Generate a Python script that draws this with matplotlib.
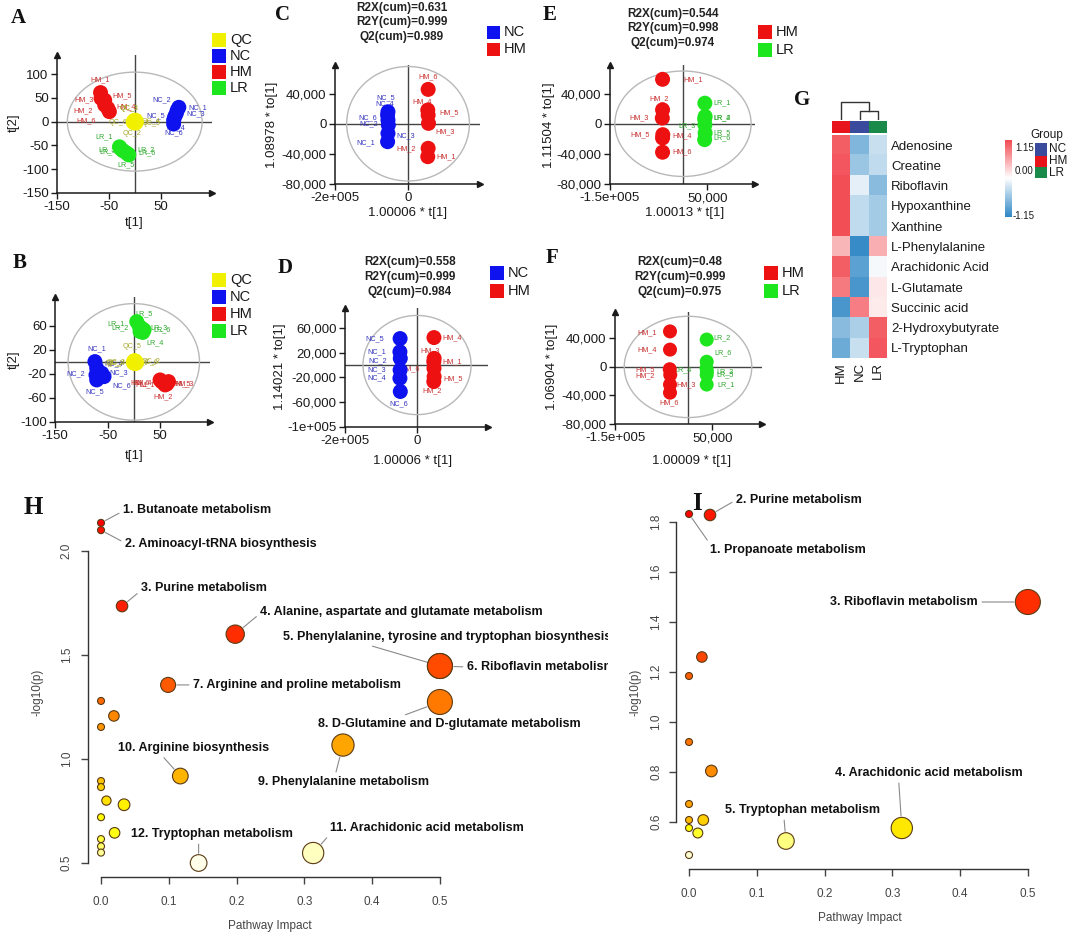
import colorsys
import numpy as np
import matplotlib
matplotlib.use("Agg")
import matplotlib.pyplot as plt
from matplotlib.patches import Ellipse, Rectangle
from matplotlib.colors import LinearSegmentedColormap, ListedColormap

plt.rcParams['font.family'] = ['Liberation Sans', 'DejaVu Sans']

# ===================== DATA =====================
# ---- A: PCA score plot (all groups) ----
A_QC_t1 = [0, 2, -1, 1, -2, 1]
A_QC_t2 = [0, -1, 1, 2, -1, -2]
A_QC_names = ["QC_3", "QC_6", "QC_4", "QC_2", "QC_1", "QC_5"]
A_NC_t1 = [85, 82, 80, 77, 75, 75]
A_NC_t2 = [30, 24, 17, 10, 3, -5]
A_NC_names = ["NC_2", "NC_1", "NC_3", "NC_5", "NC_4", "NC_6"]
A_HM_t1 = [-66, -65, -58, -58, -52, -49]
A_HM_t2 = [61, 49, 45, 35, 28, 21]
A_HM_names = ["HM_1", "HM_3", "HM_5", "HM_2", "HM_4", "HM_6"]
A_LR_t1 = [-29.5, -26, -23, -17, -13, -11.5]
A_LR_t2 = [-53, -58, -61, -65, -68, -70]
A_LR_names = ["LR_1", "LR_3", "LR_4", "LR_2", "LR_6", "LR_5"]

# ---- B: PCA score plot (second set) ----
B_QC_t1 = [2, 4, 1, 3, 0, 2]
B_QC_t2 = [0, -1, 1, -2, -1, 1]
B_QC_names = ["QC_5", "QC_3", "QC_6", "QC_4", "QC_1", "QC_2"]
B_NC_t1 = [-74, -70.6, -72, -61, -56.7, -70.6]
B_NC_t2 = [0.5, -10.5, -21.7, -18.8, -24.5, -30]
B_NC_names = ["NC_1", "NC_4", "NC_2", "NC_3", "NC_6", "NC_5"]
B_LR_t1 = [5.6, 10.5, 15.1, 19.5, 17, 11.9]
B_LR_t2 = [67, 59, 56, 53, 49, 50.5]
B_LR_names = ["LR_5", "LR_1", "LR_2", "LR_3", "LR_6", "LR_4"]
B_HM_t1 = [50, 56, 63, 53, 59.5, 66]
B_HM_t2 = [-30, -34.4, -36.7, -32.8, -38.3, -32.8]
B_HM_names = ["HM_6", "HM_1", "HM_3", "HM_4", "HM_2", "HM_5"]

# ---- C: OPLS-DA NC vs HM ----
C_stats = ["R2X(cum)=0.631", "R2Y(cum)=0.999", "Q2(cum)=0.989"]
C_NC_t = [-55000, -56000, -55000, -54000, -55000, -56000]
C_NC_to = [15900, 11500, 4900, -1700, -12800, -23800]
C_NC_names = ["NC_5", "NC_4", "NC_6", "NC_2", "NC_3", "NC_1"]
C_HM_t = [55000, 54000, 55000, 56000, 55000, 54000]
C_HM_to = [45600, 18200, 11500, 500, -32600, -43700]
C_HM_names = ["HM_6", "HM_4", "HM_5", "HM_3", "HM_2", "HM_1"]

# ---- D: OPLS-DA NC vs HM (second set) ----
D_stats = ["R2X(cum)=0.558", "R2Y(cum)=0.999", "Q2(cum)=0.984"]
D_NC_t = [-47000, -47500, -46500, -47000, -47500, -46500]
D_NC_to = [42700, 21300, 10700, -8000, -21300, -42700]
D_NC_names = ["NC_5", "NC_1", "NC_2", "NC_3", "NC_4", "NC_6"]
D_HM_t = [47000, 47500, 46500, 47000, 47500, 46500]
D_HM_to = [44300, 10700, 5300, -5300, -18700, -26700]
D_HM_names = ["HM_4", "HM_3", "HM_1", "HM_6", "HM_5", "HM_2"]

# ---- E: OPLS-DA HM vs LR ----
E_stats = ["R2X(cum)=0.544", "R2Y(cum)=0.998", "Q2(cum)=0.974"]
E_HM_t = [-42000, -42000, -42500, -41500, -42000, -42000]
E_HM_to = [59000, 18500, 7500, -14500, -18900, -37800]
E_HM_names = ["HM_1", "HM_2", "HM_3", "HM_5", "HM_4", "HM_6"]
E_LR_t = [45000, 45500, 44500, 45000, 45500, 44500]
E_LR_to = [27300, 9700, 6200, -1300, -12300, -21100]
E_LR_names = ["LR_1", "LR_2", "LR_4", "LR_3", "LR_5", "LR_6"]

# ---- F: OPLS-DA HM vs LR (second set) ----
F_stats = ["R2X(cum)=0.48", "R2Y(cum)=0.999", "Q2(cum)=0.975"]
F_HM_t = [-37000, -37000, -37500, -36500, -37000, -37000]
F_HM_to = [49800, 24300, -3200, -11000, -24700, -36100]
F_HM_names = ["HM_1", "HM_4", "HM_5", "HM_2", "HM_3", "HM_6"]
F_LR_t = [38400, 38400, 38000, 38800, 38400, 38400]
F_LR_to = [38400, 7300, -1800, -6400, -11000, -24700]
F_LR_names = ["LR_2", "LR_6", "LR_4", "LR_3", "LR_5", "LR_1"]

# ---- G: heatmap ----
G_metabolites = ["Adenosine", "Creatine", "Riboflavin", "Hypoxanthine", "Xanthine",
                 "L-Phenylalanine", "Arachidonic Acid", "L-Glutamate", "Succinic acid",
                 "2-Hydroxybutyrate", "L-Tryptophan"]
G_columns = ["HM", "NC", "LR"]
G_HM = [1.0, 1.05, 1.1, 1.1, 1.1, 0.45, 1.0, 0.82, -1.0, -0.65, -0.8]
G_NC = [-0.7, -0.55, -0.15, -0.35, -0.35, -1.1, -0.9, -1.0, 0.8, -0.45, -0.3]
G_LR = [-0.3, -0.35, -0.65, -0.5, -0.5, 0.5, -0.05, 0.15, 0.12, 1.0, 1.05]
G_merge_heights = [0.5, 1.0]   # NC+LR merge, then HM joins
G_range = 1.15

# ---- H: pathway analysis ----
H_names = ["1. Butanoate metabolism", "2. Aminoacyl-tRNA biosynthesis",
           "3. Purine metabolism", "4. Alanine, aspartate and glutamate metabolism",
           "5. Phenylalanine, tyrosine and tryptophan biosynthesis",
           "6. Riboflavin metabolism", "7. Arginine and proline metabolism",
           "8. D-Glutamine and D-glutamate metabolism", "9. Phenylalanine metabolism",
           "10. Arginine biosynthesis", "11. Arachidonic acid metabolism",
           "12. Tryptophan metabolism"]
H_impact_named = [0.0, 0.0, 0.031, 0.198, 0.5, 0.5, 0.099, 0.5, 0.357, 0.117, 0.313, 0.144]
H_logp_named = [2.135, 2.10, 1.735, 1.60, 1.447, 1.447, 1.356, 1.274, 1.067, 0.918, 0.548, 0.50]
H_impact_other = [0.0, 0.019, 0.0, 0.0, 0.0, 0.008, 0.034, 0.0, 0.020, 0.0, 0.0, 0.0]
H_logp_other = [1.279, 1.207, 1.154, 0.894, 0.865, 0.80, 0.78, 0.72, 0.645, 0.615, 0.58, 0.55]

# ---- I: pathway analysis ----
I_names = ["1. Propanoate metabolism", "2. Purine metabolism", "3. Riboflavin metabolism",
           "4. Arachidonic acid metabolism", "5. Tryptophan metabolism"]
I_impact_named = [0.0, 0.031, 0.5, 0.314, 0.143]
I_logp_named = [1.832, 1.828, 1.48, 0.576, 0.524]
I_impact_other = [0.019, 0.0, 0.0, 0.033, 0.0, 0.0, 0.021, 0.0, 0.013, 0.0]
I_logp_other = [1.26, 1.184, 0.92, 0.804, 0.672, 0.608, 0.608, 0.576, 0.556, 0.468]

# ===================== STYLE / LAYOUT =====================
W, H = 1080, 936
fig = plt.figure(figsize=(W / 100, H / 100), dpi=100)

GROUP_FILL = {'QC': '#f0f000', 'NC': '#0d12ee', 'HM': '#ee1111', 'LR': '#1ee61e'}
GROUP_TEXT = {'QC': '#a8a830', 'NC': '#3535c0', 'HM': '#c83030', 'LR': '#2ea82e'}
INK = '#1a1a1a'


def px_axes(x0, y0, x1, y1, z=1):
    ax = fig.add_axes([x0 / W, 1 - y1 / H, (x1 - x0) / W, (y1 - y0) / H], zorder=z)
    ax.patch.set_alpha(0)
    return ax


def pca_panel(box, xlim, ylim, xt, xtl, yt, ytl, ell, groups, dot=15):
    ax = px_axes(*box)
    ax.set_xlim(*xlim)
    ax.set_ylim(*ylim)
    for s in ('top', 'right'):
        ax.spines[s].set_visible(False)
    for s in ('left', 'bottom'):
        ax.spines[s].set_color(INK)
        ax.spines[s].set_linewidth(1.1)
    ax.plot([1], [0], marker='>', ms=5, color=INK, transform=ax.transAxes, clip_on=False)
    ax.plot([0], [1], marker='^', ms=5, color=INK, transform=ax.transAxes, clip_on=False)
    ax.axhline(0, color='#444', lw=1, zorder=1)
    ax.axvline(0, color='#444', lw=1, zorder=1)
    ax.add_patch(Ellipse((0, 0), 2 * ell[0], 2 * ell[1], fill=False, ec='#b8b8b8', lw=1, zorder=1))
    ax.set_xticks(xt)
    ax.set_xticklabels(xtl)
    ax.set_yticks(yt)
    ax.set_yticklabels(ytl)
    ax.tick_params(direction='out', length=4, width=1, labelsize=9.5, pad=2, colors=INK)
    for key, xs, ys, names, offs in groups:
        d = 16 if key == 'QC' else dot
        ax.scatter(xs, ys, s=(d * 0.72) ** 2, color=GROUP_FILL[key], edgecolors='none',
                   zorder=3, clip_on=False)
        for x, y, n, (dx, dy) in zip(xs, ys, names, offs):
            ax.annotate(n, (x, y), xytext=(dx, -dy), textcoords='offset pixels',
                        ha='center', va='center', fontsize=5.2, color=GROUP_TEXT[key], zorder=2)
    return ax


# label offsets (pixels, right / down) for the point labels
OFF_A_QC = [(-6, -13), (-18, 0), (17, 0), (-3, 13), (-5, -14), (16, 1)]
OFF_A_NC = [(-17, -8), (20, -2), (19, 0), (-19, -1), (2, 8), (0, 9)]
OFF_A_HM = [(0, -13), (-17, 1), (17, -4), (-22, 6), (18, -2), (-23, 9)]
OFF_A_LR = [(-15, -10), (-14, 1), (-15, 1), (20, -3), (19, -1), (-3, 10)]
OFF_B_QC = [(-3, -15), (-20, 0), (15, 1), (-19, 0), (-20, 1), (16, 0)]
OFF_B_NC = [(2, -13), (17, -4), (-20, -1), (17, 0), (18, 9), (-2, 12)]
OFF_B_LR = [(7, -8), (-23, -3), (-22, 0), (15, -2), (19, -3), (15, 11)]
OFF_B_HM = [(-20, 3), (-18, 2), (17, 0), (-20, 1), (-2, 12), (13, 2)]
OFF_C_NC = [(-2, -14), (-3, -11), (-20, -2), (-20, -1), (18, 2), (-22, 1)]
OFF_C_HM = [(0, -13), (-6, -8), (21, -2), (17, 8), (-22, 0), (18, 0)]
OFF_D_NC = [(-25, 0), (-23, 0), (-23, 2), (-23, 0), (-23, 0), (-2, 12)]
OFF_D_HM = [(18, 0), (-4, -8), (18, 0), (-24, 0), (19, 2), (-2, 9)]
OFF_E_HM = [(31, 0), (-3, -11), (-23, 0), (-23, 0), (20, -2), (20, 0)]
OFF_E_LR = [(17, 0), (17, 1), (17, -1), (-18, 1), (17, 0), (17, -2)]
OFF_F_HM = [(-23, 1), (-23, 0), (-25, 1), (-25, 1), (16, 0), (-1, 10)]
OFF_F_LR = [(15, -2), (16, -9), (-23, 2), (18, 0), (18, 0), (19, 0)]

# ----- A -----
pca_panel((57, 55, 212, 193), (-146, 149), (-150, 140),
          [-150, -50, 50], ["-150", "-50", "50"],
          [100, 50, 0, -50, -100, -150], ["100", "50", "0", "-50", "-100", "-150"],
          (130, 104),
          [('HM', A_HM_t1, A_HM_t2, A_HM_names, OFF_A_HM),
           ('NC', A_NC_t1, A_NC_t2, A_NC_names, OFF_A_NC),
           ('LR', A_LR_t1, A_LR_t2, A_LR_names, OFF_A_LR),
           ('QC', A_QC_t1, A_QC_t2, A_QC_names, OFF_A_QC)])
# ----- B -----
pca_panel((55, 297, 210, 422), (-150, 145), (-100, 108),
          [-150, -50, 50], ["-150", "-50", "50"],
          [60, 20, -20, -60, -100], ["60", "20", "-20", "-60", "-100"],
          (125, 97),
          [('NC', B_NC_t1, B_NC_t2, B_NC_names, OFF_B_NC),
           ('LR', B_LR_t1, B_LR_t2, B_LR_names, OFF_B_LR),
           ('HM', B_HM_t1, B_HM_t2, B_HM_names, OFF_B_HM),
           ('QC', B_QC_t1, B_QC_t2, B_QC_names, OFF_B_QC)])
# ----- C -----
pca_panel((335, 65, 480, 184), (-200000, 197000), (-80000, 78000),
          [-200000, 0], ["-2e+005", "0"],
          [40000, 0, -40000, -80000], ["40,000", "0", "-40,000", "-80,000"],
          (168000, 76000),
          [('NC', C_NC_t, C_NC_to, C_NC_names, OFF_C_NC),
           ('HM', C_HM_t, C_HM_to, C_HM_names, OFF_C_HM)])
# ----- D -----
pca_panel((345, 308, 488, 427), (-200000, 197000), (-100000, 92000),
          [-200000, 0], ["-2e+005", "0"],
          [60000, 20000, -20000, -60000, -100000],
          ["60,000", "20,000", "-20,000", "-60,000", "-1e+005"],
          (150000, 80000),
          [('NC', D_NC_t, D_NC_to, D_NC_names, OFF_D_NC),
           ('HM', D_HM_t, D_HM_to, D_HM_names, OFF_D_HM)])
# ----- E -----
pca_panel((610, 65, 755, 184), (-150000, 148000), (-80000, 78000),
          [-150000, 50000], ["-1.5e+005", "50,000"],
          [40000, 0, -40000, -80000], ["40,000", "0", "-40,000", "-80,000"],
          (140000, 70000),
          [('HM', E_HM_t, E_HM_to, E_HM_names, OFF_E_HM),
           ('LR', E_LR_t, E_LR_to, E_LR_names, OFF_E_LR)])
# ----- F -----
pca_panel((615, 312, 762, 424), (-150000, 152000), (-80000, 77000),
          [-150000, 50000], ["-1.5e+005", "50,000"],
          [40000, 0, -40000, -80000], ["40,000", "0", "-40,000", "-80,000"],
          (131000, 71000),
          [('HM', F_HM_t, F_HM_to, F_HM_names, OFF_F_HM),
           ('LR', F_LR_t, F_LR_to, F_LR_names, OFF_F_LR)], dot=14)

# ----- G heatmap -----
hm_cmap = LinearSegmentedColormap.from_list('bwr_g', ['#2f88c6', '#ffffff', '#f2474f'])
Z = np.column_stack([G_HM, G_NC, G_LR])
axh = px_axes(832, 135, 887, 358)
axh.imshow(Z, cmap=hm_cmap, vmin=-G_range, vmax=G_range, aspect='auto', interpolation='nearest')
axh.set_xticks(range(len(G_columns)))
axh.set_xticklabels(G_columns, rotation=90)
axh.yaxis.tick_right()
axh.set_yticks(range(len(G_metabolites)))
axh.set_yticklabels(G_metabolites)
axh.tick_params(length=0, labelsize=9.5, pad=3, colors=INK)
for s in axh.spines.values():
    s.set_visible(False)

GROUP_BAR = {'HM': '#e8141c', 'NC': '#3a4a9c', 'LR': '#1a8a4a'}
axg = px_axes(832, 121, 887, 133)
axg.imshow([list(range(len(G_columns)))], cmap=ListedColormap([GROUP_BAR[c] for c in G_columns]),
           aspect='auto', interpolation='nearest')
axg.axis('off')

axd = px_axes(832, 101, 887, 120)
axd.set_xlim(0, 3)
axd.set_ylim(0, 1.06)
h1, h2 = G_merge_heights
dk = dict(color='#333', lw=1)
axd.plot([1.5, 1.5, 2.5, 2.5], [0, h1, h1, 0], **dk)
axd.plot([0.5, 0.5, 2.0, 2.0], [0, h2, h2, h1], **dk)
axd.axis('off')

axc = px_axes(1005, 140, 1012, 217)
axc.imshow(np.linspace(G_range, -G_range, 100)[:, None], cmap=hm_cmap, aspect='auto',
           vmin=-G_range, vmax=G_range)
axc.axis('off')


# ----- H / I bubble plots -----
def heat_colors(n):
    j = n // 4
    i = n - j
    cols = [colorsys.hsv_to_rgb(h, 1, 1) for h in np.linspace(0, 1 / 6, i)]
    if j > 0:
        cols += [colorsys.hsv_to_rgb(1 / 6, s, 1)
                 for s in np.linspace(1 - 1 / (2 * j), 1 / (2 * j), j)]
    return cols


def bubble_panel(box, xlim, ylim, yticks, ytl, impacts, logps, names, specs, ypad, xpad):
    ax = px_axes(*box)
    ax.set_xlim(*xlim)
    ax.set_ylim(*ylim)
    imp = np.asarray(impacts, float)
    lp = np.asarray(logps, float)
    n = len(imp)
    order = np.argsort(-lp, kind='stable')
    hc = heat_colors(n)
    cols = [None] * n
    for k, idx in enumerate(order):
        cols[idx] = hc[k]
    radii = 3.5 + 9 * np.sqrt(imp / 0.5)
    dro = np.argsort(-radii, kind='stable')
    ax.scatter(imp[dro], lp[dro], s=(2 * radii[dro] * 0.72) ** 2, c=[cols[i] for i in dro],
               edgecolors='#5a3a14', linewidths=0.8, zorder=3, clip_on=False)
    for i, (dx, dy, ha, rel) in enumerate(specs):
        ax.annotate(names[i], (imp[i], lp[i]), xytext=(dx, dy), textcoords='offset pixels',
                    ha=ha, va='center', fontsize=9, fontweight='bold', color='#111',
                    clip_on=True, annotation_clip=False, zorder=4,
                    arrowprops=dict(arrowstyle='-', color='#8a8a8a', lw=0.8, shrinkA=1,
                                    shrinkB=radii[i] * 0.72 + 1, relpos=rel))
    for s in ('top', 'right'):
        ax.spines[s].set_visible(False)
    for s in ('left', 'bottom'):
        ax.spines[s].set_color('#333')
        ax.spines[s].set_linewidth(1)
    xt = [0.0, 0.1, 0.2, 0.3, 0.4, 0.5]
    ax.set_xticks(xt)
    ax.set_xticklabels([f"{v:.1f}" for v in xt])
    ax.set_yticks(yticks)
    ax.set_yticklabels(ytl, rotation=90, va='center')
    ax.spines['bottom'].set_bounds(xt[0], xt[-1])
    ax.spines['left'].set_bounds(yticks[0], yticks[-1])
    ax.tick_params(axis='both', direction='out', length=5, width=1, labelsize=8.5,
                   colors='#444')
    ax.tick_params(axis='y', pad=ypad)
    ax.tick_params(axis='x', pad=xpad)
    return ax


H_specs = [(22, 13, 'left', (0, 0.4)), (24, -14, 'left', (0, 0.6)),
           (19, 18, 'left', (0, 0.3)), (25, 22, 'left', (0, 0.4)),
           (-157, 29, 'left', (0.24, 0)), (27, -1, 'left', (0, 0.5)),
           (25, 0, 'left', (0, 0.5)), (-122, -22, 'left', (0.3, 1)),
           (-85, -37, 'left', (0.45, 1)), (-62, 28, 'left', (0.28, 0)),
           (17, 25, 'left', (0, 0)), (-68, 29, 'left', (0.42, 0))]
bubble_panel((88, 495, 608, 877), (-0.0192, 0.748), (0.4327, 2.269),
             [0.5, 1.0, 1.5, 2.0], ["0.5", "1.0", "1.5", "2.0"],
             H_impact_named + H_impact_other, H_logp_named + H_logp_other,
             H_names, H_specs, ypad=6, xpad=9)

I_specs = [(21, -36, 'left', (0, 1)), (26, 15, 'left', (0, 0.5)),
           (-50, 0, 'right', (1, 0.5)), (-67, 55, 'left', (0.34, 0)),
           (-61, 31, 'left', (0.38, 0))]
bubble_panel((676, 480, 1078, 869), (-0.0192, 0.574), (0.412, 1.968),
             [0.6, 0.8, 1.0, 1.2, 1.4, 1.6, 1.8], ["0.6", "0.8", "1.0", "1.2", "1.4", "1.6", "1.8"],
             I_impact_named + I_impact_other, I_logp_named + I_logp_other,
             I_names, I_specs, ypad=5, xpad=9)

# ===================== OVERLAY TEXT =====================
ov = px_axes(0, 0, W, H, z=5)
ov.set_xlim(0, W)
ov.set_ylim(H, 0)
ov.axis('off')

serif = ['Liberation Serif', 'DejaVu Serif']
for lab, x, y, fs in [('A', 18, 18, 15), ('B', 20, 263, 15), ('C', 282, 15, 15),
                      ('D', 285, 268, 15), ('E', 550, 15, 15), ('F', 552, 258, 15),
                      ('G', 802, 100, 15), ('H', 33, 507, 18), ('I', 697, 503, 18)]:
    ov.text(x, y, lab, family=serif, fontweight='bold', fontsize=fs, ha='center', va='center',
            color='#111')


def legend(x, ys, keys, sq=14, fs=10.5):
    for y, k in zip(ys, keys):
        ov.add_patch(Rectangle((x, y - sq / 2), sq, sq, color=GROUP_FILL[k], lw=0))
        ov.text(x + sq + 4, y, k, fontsize=fs, va='center', ha='left', color=INK)


legend(212, [40, 56, 72, 88], ['QC', 'NC', 'HM', 'LR'])
legend(212, [280, 297, 314, 331], ['QC', 'NC', 'HM', 'LR'])
legend(487, [32, 49], ['NC', 'HM'], sq=13)
legend(490, [273, 291], ['NC', 'HM'], sq=14)
legend(758, [32, 50], ['HM', 'LR'], sq=14)
legend(764, [273, 291], ['HM', 'LR'], sq=14)


def stats(x, ys, lines):
    for y, t in zip(ys, lines):
        ov.text(x, y, t, fontsize=8.5, fontweight='bold', ha='center', va='center', color='#222')


stats(402, [8, 22.5, 37], C_stats)
stats(410, [262, 277, 292], D_stats)
stats(673, [14, 28, 43], E_stats)
stats(680, [262, 277, 292], F_stats)

for x, y, t, rot in [(14, 123, 't[2]', 90), (134, 223, 't[1]', 0),
                     (14, 360, 't[2]', 90), (134, 456, 't[1]', 0),
                     (272, 125, '1.08978 * to[1]', 90), (408, 213, '1.00006 * t[1]', 0),
                     (280, 367, '1.14021 * to[1]', 90), (413, 461, '1.00006 * t[1]', 0),
                     (549, 125, '1.11504 * to[1]', 90), (685, 213, '1.00013 * t[1]', 0),
                     (552, 367, '1.06904 * to[1]', 90), (692, 461, '1.00009 * t[1]', 0)]:
    ov.text(x, y, t, fontsize=9.5, rotation=rot, ha='center', va='center', color=INK)

# heatmap legends
ov.text(1015, 148, f"{G_range:.2f}", fontsize=7, va='center', ha='left', color=INK)
ov.text(1015, 171, "0.00", fontsize=7, va='center', ha='left', color=INK)
ov.text(1013, 216, f"-{G_range:.2f}", fontsize=7, va='center', ha='left', color=INK)
ov.text(1047, 135, "Group", fontsize=8.5, va='center', ha='center', color=INK)
for (y0, y1), k in zip([(143, 156), (156, 167), (167, 178)], ['NC', 'HM', 'LR']):
    ov.add_patch(Rectangle((1035, y0), 12, y1 - y0, color=GROUP_BAR[k], lw=0))
    ov.text(1049, (y0 + y1) / 2, k, fontsize=8.5, va='center', ha='left', color=INK)

# bubble plot axis titles
ov.text(38, 692, "-log10(p)", fontsize=8.5, rotation=90, ha='center', va='center', color='#444')
ov.text(270, 926, "Pathway Impact", fontsize=8.5, ha='center', va='center', color='#444')
ov.text(636, 692, "-log10(p)", fontsize=8.5, rotation=90, ha='center', va='center', color='#444')
ov.text(860, 918, "Pathway Impact", fontsize=8.5, ha='center', va='center', color='#444')

fig.savefig("out.png", dpi=100)
